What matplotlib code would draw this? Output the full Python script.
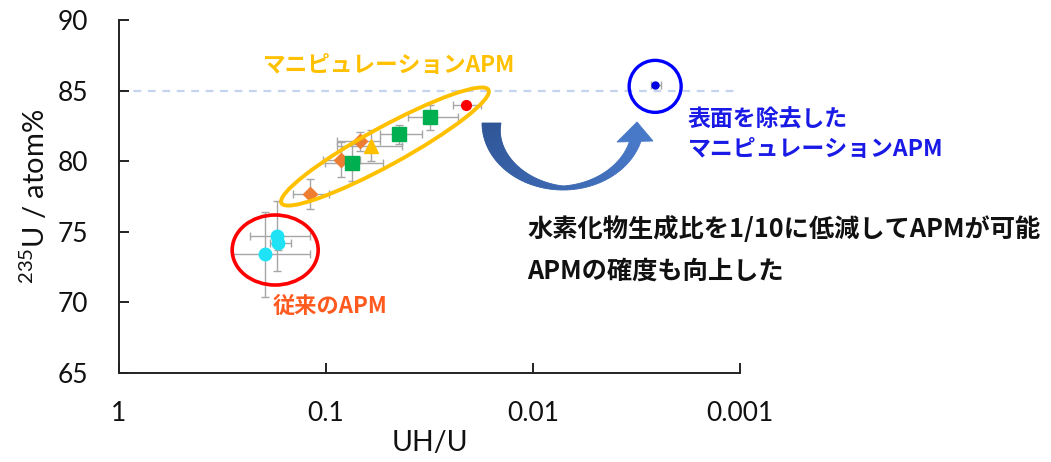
import matplotlib
matplotlib.use("Agg")
import matplotlib.pyplot as plt
import numpy as np
from matplotlib.patches import Ellipse, Polygon
from matplotlib.transforms import IdentityTransform
from matplotlib.colors import to_rgb

W, H = 1051, 462

# conventional APM (cyan circles)
conv_x = [0.173, 0.170, 0.197]
conv_y = [74.7, 74.2, 73.4]
conv_xlo = [0.119, 0.147, 0.119]
conv_xhi = [0.234, 0.187, 0.286]
conv_yerr = [2.5, 0.5, 3.0]

# manipulation APM, orange diamonds
dia_x = [0.0686, 0.085, 0.12]
dia_y = [81.4, 80.1, 77.7]
dia_xlo = [0.0548, 0.0686, 0.0964]
dia_xhi = [0.0889, 0.103, 0.144]
dia_yerr = [0.7, 1.25, 1.07]

# manipulation APM, yellow triangle
tri_x = [0.0608]
tri_y = [81.1]
tri_xlo = [0.0431]
tri_xhi = [0.0889]
tri_yerr = [1.1]

# manipulation APM, green squares
sq_x = [0.0315, 0.0444, 0.0751]
sq_y = [83.1, 81.9, 79.9]
sq_xlo = [0.023, 0.0345, 0.053]
sq_xhi = [0.040, 0.0548, 0.101]
sq_yerr = [0.9, 0.65, 1.3]

# manipulation APM, red circle
red_x = [0.021]
red_y = [84.0]
red_xlo = [0.0178]
red_xhi = [0.0244]
red_yerr = [0.2]

# surface-removed manipulation APM
blue_x = [0.00257]
blue_y = [85.4]
blue_xlo = [0.0024]
blue_xhi = [0.0027]
blue_yerr = [0.1]

target_level = 85
x_ticks = [1, 0.1, 0.01, 0.001]
x_ticklabels = ["1", "0.1", "0.01", "0.001"]
y_ticks = [65, 70, 75, 80, 85, 90]

plt.rcParams['font.family'] = ['Lato', 'DejaVu Sans']
plt.rcParams['mathtext.default'] = 'regular'
JP = ['Noto Sans CJK JP', 'DejaVu Sans']

fig = plt.figure(figsize=(W / 100, H / 100), dpi=100)
ax = fig.add_axes([119 / W, 1 - 373 / H, (740 - 119) / W, (373 - 20) / H])

ax.set_xscale('log')
ax.set_xlim(1, 0.001)
ax.set_ylim(65, 90)
ax.set_xticks(x_ticks)
ax.set_xticklabels(x_ticklabels)
ax.minorticks_off()
ax.set_yticks(y_ticks)
for side in ['top', 'right']:
    ax.spines[side].set_visible(False)
for side in ['left', 'bottom']:
    ax.spines[side].set_color('#222222')
    ax.spines[side].set_linewidth(1.4)
ax.tick_params(direction='in', length=7, width=1.4, color='#222222',
               labelsize=19, labelcolor='#111111')
ax.tick_params(axis='x', pad=20)
ax.tick_params(axis='y', pad=22)
ax.set_xlabel('UH/U', fontsize=20.5, color='#111111', labelpad=3)
ax.set_ylabel(r'$^{235}$U / atom%', fontsize=21, color='#111111', labelpad=6)

ax.axhline(target_level, color='#c5d4ee', lw=1.6, ls=(0, (3.5, 3)), zorder=1)

eb = dict(ecolor='#a6a6a6', elinewidth=1.0, capsize=3, capthick=1.0, ls='none', zorder=3)

def xerr_of(x, lo, hi):
    x = np.array(x)
    return [x - np.array(lo), np.array(hi) - x]

ax.errorbar(conv_x, conv_y, xerr=xerr_of(conv_x, conv_xlo, conv_xhi), yerr=conv_yerr,
            marker='o', ms=9, mfc='#1fe3f5', mec='#1fe3f5', **eb)
ax.errorbar(dia_x, dia_y, xerr=xerr_of(dia_x, dia_xlo, dia_xhi), yerr=dia_yerr,
            marker='D', ms=7, mfc='#ed7d31', mec='#ed7d31', **eb)
ax.errorbar(tri_x, tri_y, xerr=xerr_of(tri_x, tri_xlo, tri_xhi), yerr=tri_yerr,
            marker='^', ms=10, mfc='#ffc000', mec='#ffc000', **eb)
ax.errorbar(sq_x, sq_y, xerr=xerr_of(sq_x, sq_xlo, sq_xhi), yerr=sq_yerr,
            marker='s', ms=9.5, mfc='#00b050', mec='#00b050', **eb)
ax.errorbar(red_x, red_y, xerr=xerr_of(red_x, red_xlo, red_xhi), yerr=red_yerr,
            marker='o', ms=7, mfc='#ff0000', mec='#ff0000', **eb)
ax.errorbar(blue_x, blue_y, xerr=xerr_of(blue_x, blue_xlo, blue_xhi), yerr=blue_yerr,
            marker='o', ms=5, mfc='#0000e0', mec='#0000e0', **eb)


def ring(center, w, h, angle, color, lw):
    cx, cy = ax.transData.transform(center)
    e = Ellipse((cx, cy), w, h, angle=angle, fill=False, ec=color, lw=lw,
                transform=IdentityTransform(), zorder=5)
    fig.add_artist(e)

ring((0.0519, 81.04), 236, 38, 28.7, '#ffc000', 2.8)
ring((0.176, 73.71), 86, 70, 0, '#ff0000', 2.6)
ring((0.00257, 85.3), 52, 52, 0, '#0000ff', 2.4)

# curved arrow, built in pixel space with a dark-to-light fill
cxp, cyp = 563, 123
rx, ry = 81, 67
th = np.linspace(np.pi, np.radians(15.6), 70)
wid = np.interp(np.degrees(th)[::-1], [15.6, 90, 180], [11, 4, 19])[::-1]
ox = cxp + rx * np.cos(th)
oy = cyp + ry * np.sin(th)
ix = cxp + (rx - wid) * np.cos(th)
iy = cyp + (ry - wid) * np.sin(th)
c0 = np.array(to_rgb('#2e5597'))
c1 = np.array(to_rgb('#4878c8'))
for i in range(len(th) - 1):
    t = i / (len(th) - 2)
    col = c0 * (1 - t) + c1 * t
    pts = [(ox[i], H - oy[i]), (ox[i + 1], H - oy[i + 1]),
           (ix[i + 1], H - iy[i + 1]), (ix[i], H - iy[i])]
    fig.add_artist(Polygon(pts, closed=True, fc=col, ec=col, lw=0.6,
                           transform=IdentityTransform(), zorder=4))
head = [(653, H - 141), (637, H - 122), (617, H - 142)]
fig.add_artist(Polygon(head, closed=True, fc=c1, ec=c1, lw=0.6,
                       transform=IdentityTransform(), zorder=4))


def note(px, py, s, color, size):
    fig.text(px / W, 1 - py / H, s, color=color, fontsize=size, fontweight='bold',
             family=JP, ha='left', va='center')

note(263, 66, 'マニピュレーションAPM', '#ffc000', 16.3)
note(273, 306, '従来のAPM', '#ff5a1f', 16)
note(688, 120, '表面を除去した', '#1a1ae6', 16.5)
note(688, 149, 'マニピュレーションAPM', '#1a1ae6', 16.5)
note(527, 229, '水素化物生成比を1/10に低減してAPMが可能', '#111111', 18.2)
note(527, 271, 'APMの確度も向上した', '#111111', 18.2)

fig.savefig('out.png', dpi=100)
